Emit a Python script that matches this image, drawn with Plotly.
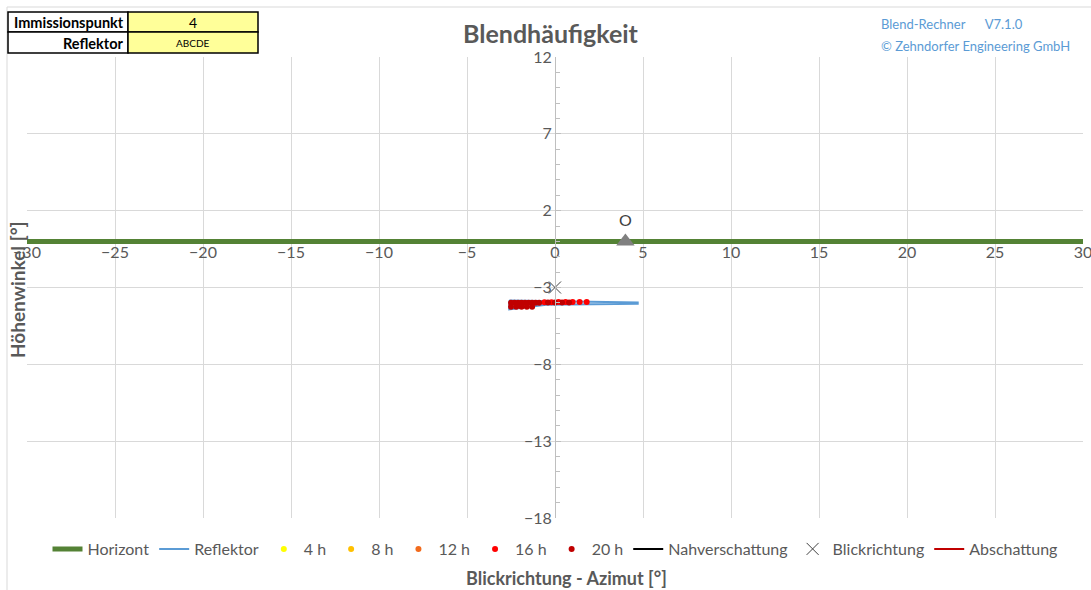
import plotly.graph_objects as go

# chart values
horizont_x = [-30, 30]
horizont_y = [0, 0]

reflektor_x = [-2.6, 4.7, 4.7, -0.5, -2.6, -2.6]
reflektor_y = [-3.85, -3.98, -4.06, -4.12, -4.43, -3.85]

h20_x = [-2.5, -2.3, -2.1, -1.9, -1.7, -1.5, -1.3, -1.1, -0.9, -2.5, -2.2, -1.9, -1.6, -1.3, -0.4, 0.0, 0.4, 0.8]
h20_y = [-4.0, -4.0, -4.0, -4.0, -4.0, -4.0, -4.0, -4.0, -4.0, -4.25, -4.25, -4.25, -4.25, -4.25, -3.98, -3.98, -3.98, -3.98]
h16_x = [-0.6, -0.2, 0.2, 0.6, 1.0, 1.4, 1.8]
h16_y = [-3.96, -3.96, -3.95, -3.95, -3.94, -3.94, -3.94]

blick_x = [0]
blick_y = [-3]

ip_x = [4]
ip_y = [0]
ip_label = ["O"]

x_range = [-30, 30]
y_range = [-18, 12]

immissionspunkt = "4"
reflektor_name = "ABCDE"

GREY = "#595959"
FONT = "Lato"

# pixel -> paper helpers (plot area 27..1083 x 57..518)
L, R, T, B = 27, 1083, 57, 518
def px(x):
    return (x - L) / (R - L)
def py(y):
    return (B - y) / (B - T)

fig = go.Figure()

fig.add_trace(go.Scatter(x=horizont_x, y=horizont_y, mode="lines", name="Horizont",
                         line=dict(color="#548235", width=5)))
fig.add_trace(go.Scatter(x=reflektor_x, y=reflektor_y, mode="lines", name="Reflektor",
                         line=dict(color="#5B9BD5", width=2)))
fig.add_trace(go.Scatter(x=[None], y=[None], mode="markers", name="4 h",
                         marker=dict(color="#FFFF00", size=6)))
fig.add_trace(go.Scatter(x=[None], y=[None], mode="markers", name="8 h",
                         marker=dict(color="#FFC000", size=6)))
fig.add_trace(go.Scatter(x=[None], y=[None], mode="markers", name="12 h",
                         marker=dict(color="#F26B1D", size=6)))
fig.add_trace(go.Scatter(x=h16_x, y=h16_y, mode="markers", name="16 h",
                         marker=dict(color="#FF0000", size=6)))
fig.add_trace(go.Scatter(x=h20_x, y=h20_y, mode="markers", name="20 h",
                         marker=dict(color="#C00000", size=6)))
fig.add_trace(go.Scatter(x=[None], y=[None], mode="lines", name="Nahverschattung",
                         line=dict(color="black", width=2)))
fig.add_trace(go.Scatter(x=blick_x, y=blick_y, mode="markers", name="Blickrichtung",
                         marker=dict(symbol="x-thin-open", size=12, color="#404040",
                                     line=dict(color="#404040", width=1))))
fig.add_trace(go.Scatter(x=[None], y=[None], mode="lines", name="Abschattung",
                         line=dict(color="#C00000", width=2)))
fig.add_trace(go.Scatter(x=ip_x, y=ip_y, mode="markers+text", text=ip_label,
                         textposition="top center", showlegend=False,
                         textfont=dict(size=16, color="#404040", family=FONT),
                         marker=dict(symbol="triangle-up", size=16, color="#808080")))

fig.update_xaxes(range=x_range, tick0=-30, dtick=5, showgrid=True, gridcolor="#D9D9D9",
                 zeroline=False, showline=False, anchor="free", position=py(241),
                 ticks="", ticklabeloverflow="allow", automargin=False,
                 tickfont=dict(size=16, color=GREY, family=FONT), domain=[0, 1])
fig.update_yaxes(range=y_range, tick0=-18, dtick=5, showgrid=True, gridcolor="#D9D9D9",
                 zeroline=False, showline=True, linecolor="#BFBFBF", anchor="free",
                 position=px(555), ticks="inside", ticklen=5, tickcolor="#BFBFBF",
                 automargin=False,
                 minor=dict(dtick=1, ticks="inside", ticklen=4, tickcolor="#BFBFBF", showgrid=False),
                 tickfont=dict(size=16, color=GREY, family=FONT), domain=[0, 1])

shapes = [
    # outer chart border
    dict(type="rect", xref="paper", yref="paper", x0=px(7), x1=px(1100), y0=py(7), y1=py(600),
         line=dict(color="#D9D9D9", width=1), layer="below"),
    # info table
    dict(type="rect", xref="paper", yref="paper", x0=px(8), x1=px(128), y0=py(12), y1=py(32),
         line=dict(color="black", width=1.5), fillcolor="white"),
    dict(type="rect", xref="paper", yref="paper", x0=px(128), x1=px(258), y0=py(12), y1=py(32),
         line=dict(color="black", width=1.5), fillcolor="#FFFF99"),
    dict(type="rect", xref="paper", yref="paper", x0=px(8), x1=px(128), y0=py(32), y1=py(53),
         line=dict(color="black", width=1.5), fillcolor="white"),
    dict(type="rect", xref="paper", yref="paper", x0=px(128), x1=px(258), y0=py(32), y1=py(53),
         line=dict(color="black", width=1.5), fillcolor="#FFFF99"),
]

annotations = [
    dict(text="<b>Immissionspunkt</b>", x=px(126), y=py(22), xanchor="right", yanchor="middle",
         font=dict(size=14.5, color="black", family=FONT)),
    dict(text=immissionspunkt, x=px(193), y=py(22), xanchor="center", yanchor="middle",
         font=dict(size=14, color="black", family=FONT)),
    dict(text="<b>Reflektor</b>", x=px(126), y=py(43), xanchor="right", yanchor="middle",
         font=dict(size=14.5, color="black", family=FONT)),
    dict(text=reflektor_name, x=px(193), y=py(43), xanchor="center", yanchor="middle",
         font=dict(size=10, color="black", family=FONT)),
    dict(text="<b>Blendhäufigkeit</b>", x=px(551), y=py(33), xanchor="center", yanchor="middle",
         font=dict(size=25, color=GREY, family=FONT)),
    dict(text="Blend-Rechner&nbsp;&nbsp;&nbsp;&nbsp;&nbsp;&nbsp;V7.1.0", x=px(879), y=py(24),
         xanchor="left", yanchor="middle", font=dict(size=13, color="#5B9BD5", family=FONT)),
    dict(text="© Zehndorfer Engineering GmbH", x=px(879), y=py(46),
         xanchor="left", yanchor="middle", font=dict(size=13, color="#5B9BD5", family=FONT)),
    dict(text="<b>Blickrichtung - Azimut [°]</b>", x=px(566), y=py(578), xanchor="center",
         yanchor="middle", font=dict(size=18, color=GREY, family=FONT)),
    dict(text="<b>Höhenwinkel [°]</b>", x=px(17), y=py(290), xanchor="center", yanchor="middle",
         textangle=-90, font=dict(size=19, color=GREY, family=FONT)),
]
for a in annotations:
    a.update(xref="paper", yref="paper", showarrow=False)

fig.update_layout(
    width=1091, height=590,
    margin=dict(l=L, r=1091 - R, t=T, b=590 - B, autoexpand=False),
    paper_bgcolor="white", plot_bgcolor="white",
    font=dict(family=FONT, color=GREY),
    shapes=shapes, annotations=annotations,
    legend=dict(orientation="h", x=0.5, xanchor="center", y=py(549), yanchor="middle",
                font=dict(size=16, color=GREY, family=FONT), itemwidth=30,
                tracegroupgap=0),
)

fig.write_html("out.html", config={"displayModeBar": False},
               post_script="document.body.style.margin='0';")
